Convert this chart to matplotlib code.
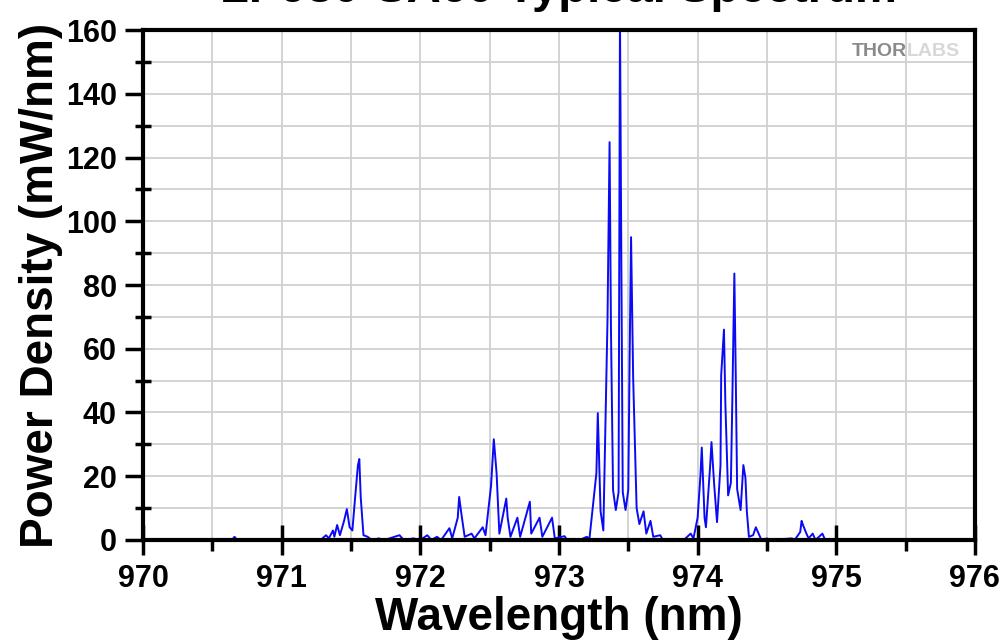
import matplotlib.pyplot as plt
from matplotlib.ticker import MultipleLocator

plt.rcParams['font.family'] = ['Liberation Sans', 'DejaVu Sans']
plt.rcParams['font.weight'] = 'bold'

# spectrum trace (wavelength nm, power density mW/nm)
wavelength = [
    970.00, 970.64, 970.66, 970.68, 971.00, 971.15, 971.17, 971.28,
    971.32, 971.34, 971.37, 971.38, 971.40, 971.42, 971.45, 971.47,
    971.49, 971.51, 971.53, 971.55, 971.56, 971.57, 971.59, 971.62,
    971.65, 971.70, 971.74, 971.85, 971.88, 971.95, 972.00, 972.05,
    972.08, 972.12, 972.15, 972.21, 972.23, 972.27, 972.28, 972.30,
    972.32, 972.37, 972.39, 972.45, 972.47, 972.51, 972.53, 972.55,
    972.57, 972.62, 972.63, 972.65, 972.70, 972.72, 972.79, 972.80,
    972.86, 972.88, 972.95, 972.97, 973.04, 973.06, 973.15, 973.20,
    973.22, 973.27, 973.28, 973.30, 973.32, 973.35, 973.365, 973.375,
    973.39, 973.41, 973.43, 973.44, 973.45, 973.46, 973.48, 973.50,
    973.51, 973.52, 973.535, 973.56, 973.58, 973.61, 973.63, 973.66,
    973.68, 973.73, 973.75, 973.90, 973.95, 973.97, 974.00, 974.02,
    974.03, 974.05, 974.06, 974.09, 974.10, 974.12, 974.14, 974.165,
    974.17, 974.19, 974.20, 974.22, 974.24, 974.25, 974.265, 974.275,
    974.285, 974.31, 974.33, 974.345, 974.355, 974.37, 974.40, 974.42,
    974.44, 974.46, 974.50, 974.52, 974.68, 974.70, 974.74, 974.75,
    974.76, 974.78, 974.80, 974.83, 974.85, 974.90, 974.92, 976.00,
]
power = [
    0.0, 0.0, 1.0, 0.0, 0.0, 0.3, 0.0, 0.0,
    1.5, 0.5, 3.0, 1.0, 4.7, 1.5, 6.0, 9.7,
    4.0, 3.0, 13.5, 23.5, 25.4, 13.5, 1.5, 1.0,
    0.0, 0.5, 0.0, 1.5, 0.0, 0.5, 0.0, 1.5,
    0.0, 1.0, 0.0, 3.7, 0.5, 7.0, 13.5, 7.0,
    1.0, 2.0, 0.5, 4.0, 1.5, 17.0, 31.6, 21.0,
    2.0, 13.0, 7.0, 1.0, 7.0, 1.0, 12.0, 2.0,
    7.0, 1.0, 7.0, 0.5, 1.2, 0.0, 0.0, 1.0,
    0.5, 21.0, 39.8, 9.0, 3.0, 69.0, 124.8, 66.0,
    15.7, 9.4, 15.0, 165.0, 86.0, 15.0, 9.4, 15.7,
    58.6, 95.0, 51.0, 10.0, 5.0, 9.0, 2.0, 6.0,
    1.0, 1.5, 0.0, 0.0, 2.0, 0.5, 7.0, 20.0,
    29.0, 7.0, 4.0, 23.0, 30.7, 17.0, 5.6, 23.5,
    51.7, 66.0, 43.0, 14.0, 18.0, 43.0, 83.6, 51.7,
    16.0, 9.4, 23.5, 19.4, 9.0, 1.0, 1.5, 4.0,
    2.0, 0.0, 0.5, 0.0, 0.5, 0.0, 2.5, 6.0,
    4.7, 2.5, 0.5, 2.0, 0.0, 2.0, 0.0, 0.0,
]

fig = plt.figure(figsize=(10.03, 6.44), dpi=100)
ax = fig.add_axes([0.1426, 0.1615, 0.8294, 0.7919])

ax.plot(wavelength, power, color='#0a0af5', lw=1.4, zorder=3)

ax.set_xlim(970, 976)
ax.set_ylim(0, 160)
ax.xaxis.set_major_locator(MultipleLocator(1))
ax.xaxis.set_minor_locator(MultipleLocator(0.5))
ax.yaxis.set_major_locator(MultipleLocator(20))
ax.yaxis.set_minor_locator(MultipleLocator(10))

ax.grid(True, which='both', color='#d0d0d0', lw=1.3, zorder=0)
ax.tick_params(axis='x', which='major', direction='inout', length=22, width=2.5,
               labelsize=22, pad=6)
ax.tick_params(axis='x', which='minor', direction='out', length=8, width=2.5)
ax.tick_params(axis='y', which='major', direction='out', length=13, width=2.5,
               labelsize=22, pad=6)
ax.tick_params(axis='y', which='minor', direction='inout', length=11, width=2.5)
ax.tick_params(top=False, right=False, which='both')
for s in ax.spines.values():
    s.set_linewidth(3)
    s.set_zorder(4)

ax.set_xlabel('Wavelength (nm)', fontsize=33, fontweight='bold', labelpad=2)
ax.set_ylabel('Power Density (mW/nm)', fontsize=33, fontweight='bold', labelpad=2)

fig.text(0.557, 0.997, 'LP980-SA60 Typical Spectrum', fontsize=34,
         fontweight='bold', ha='center', va='baseline')

# logo
ax.text(0.918, 0.957, 'THOR', transform=ax.transAxes, fontsize=14,
        fontweight='bold', color='#8a8a8a', ha='right', va='center')
ax.text(0.918, 0.957, 'LABS', transform=ax.transAxes, fontsize=14,
        fontweight='bold', color='#d8d8d8', ha='left', va='center')

fig.savefig('out.png', dpi=100)
